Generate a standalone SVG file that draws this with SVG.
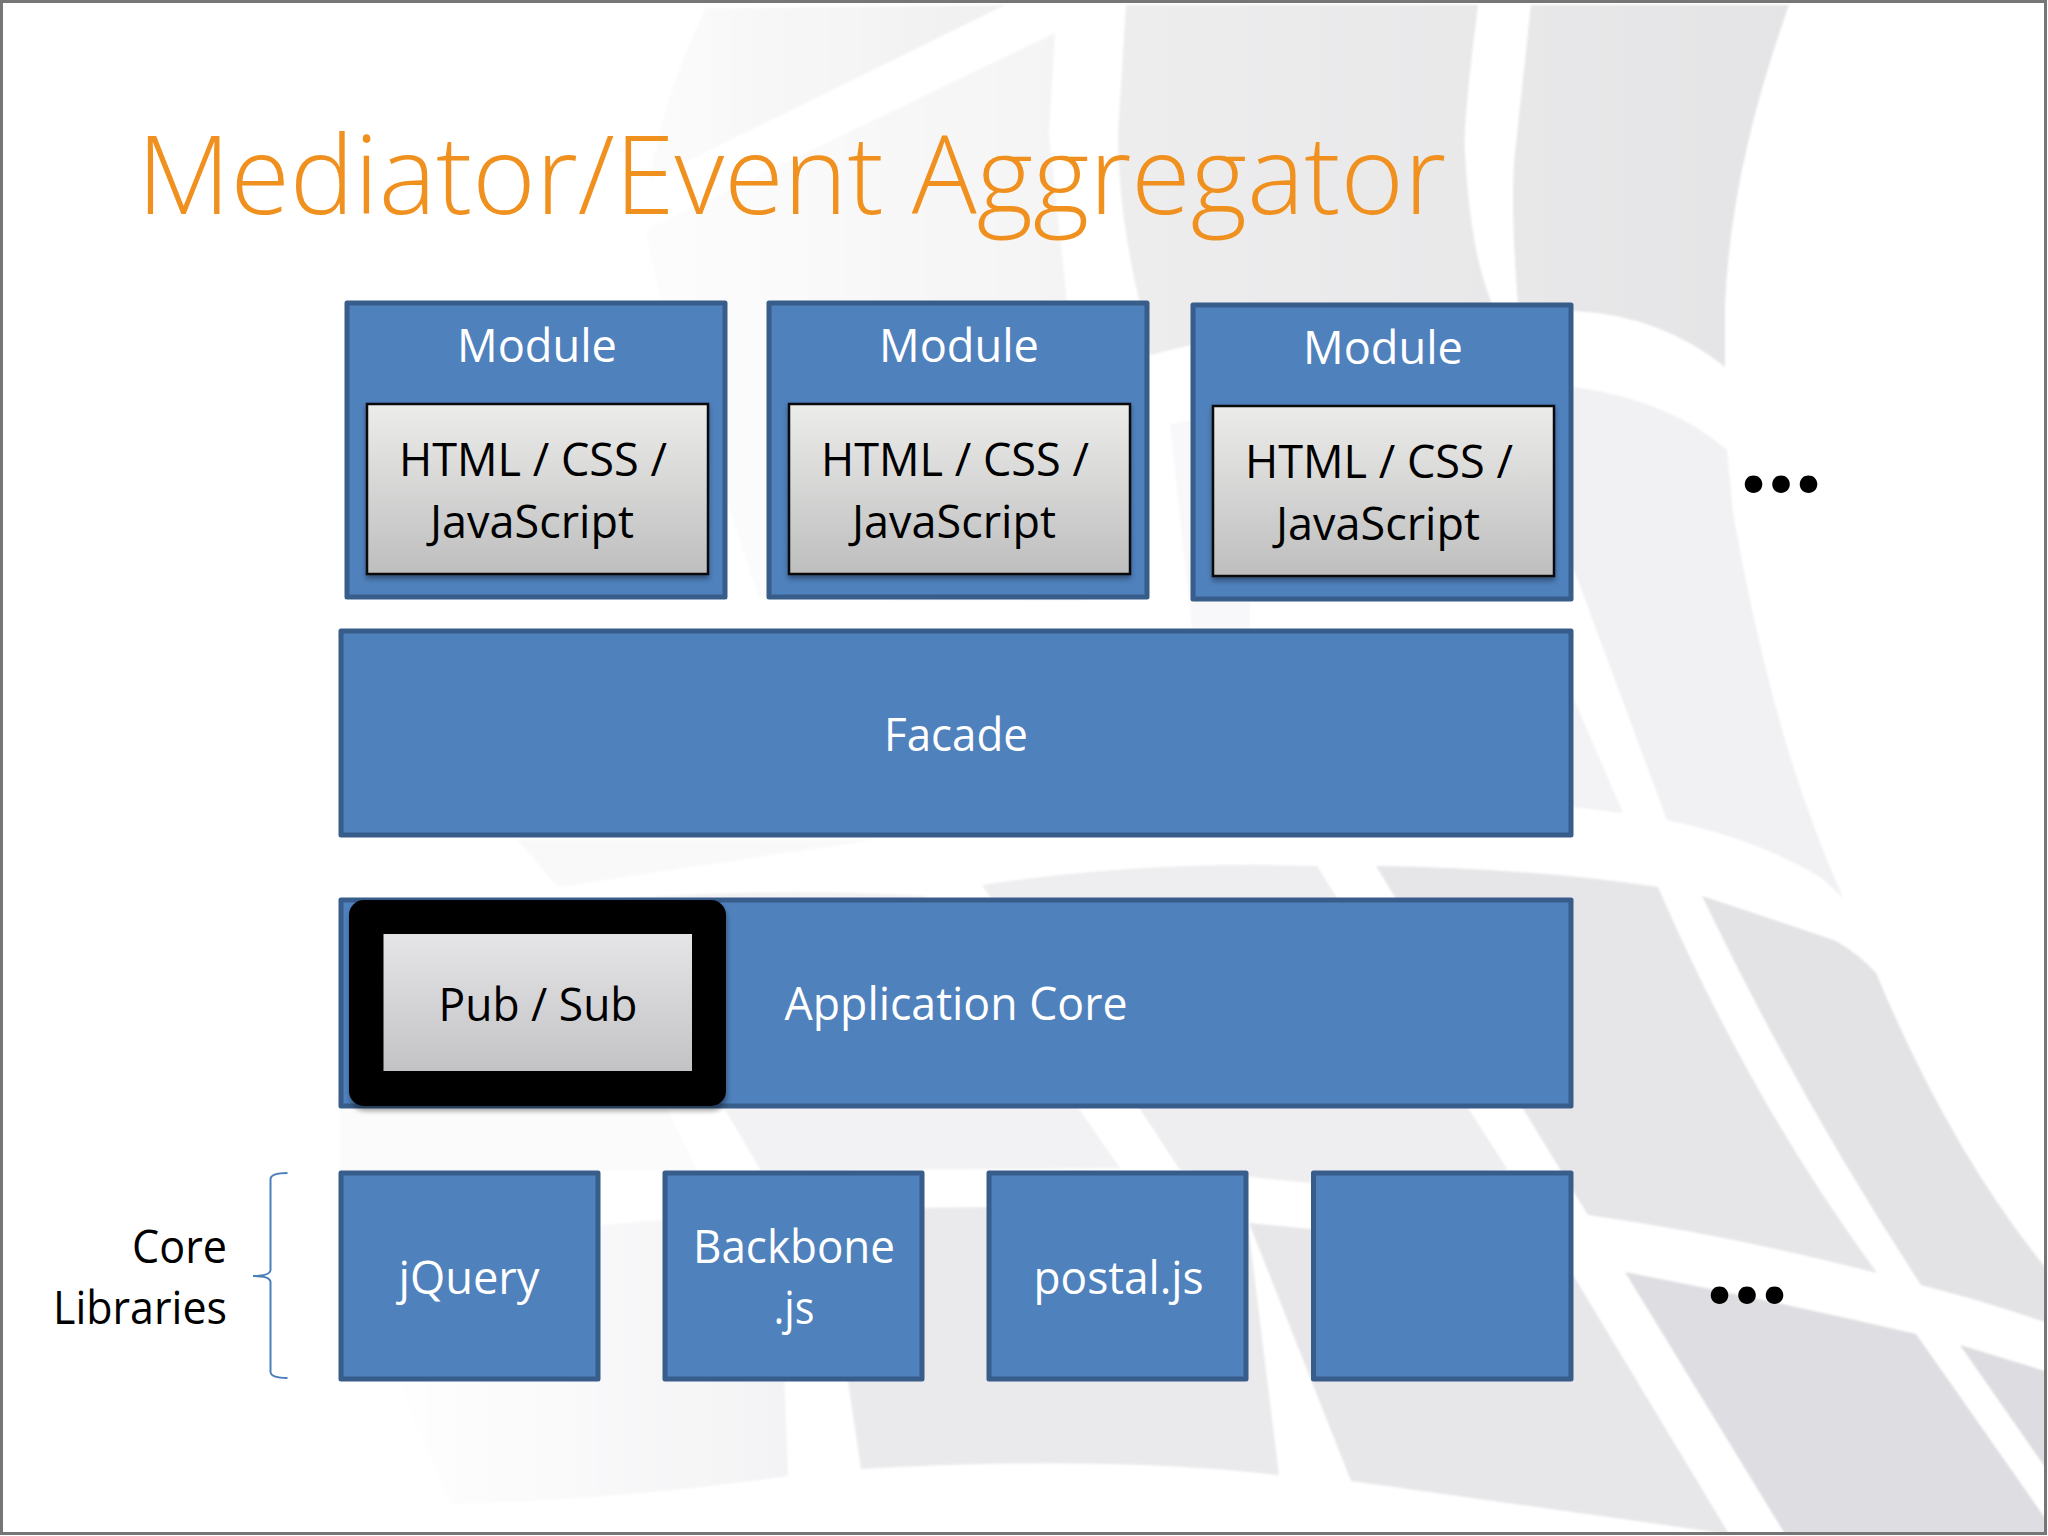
<svg xmlns="http://www.w3.org/2000/svg" width="2048" height="1536" viewBox="0 0 2048 1536">
<defs>
<linearGradient id="inner" x1="0" y1="0" x2="0" y2="1"><stop offset="0" stop-color="#ECEDEB"/><stop offset="1" stop-color="#BEBEBE"/></linearGradient>
<linearGradient id="inner2" x1="0" y1="0" x2="0" y2="1"><stop offset="0" stop-color="#E5E4E7"/><stop offset="1" stop-color="#C3C2C5"/></linearGradient>
<linearGradient id="fadeG" gradientUnits="userSpaceOnUse" x1="380" y1="0" x2="790" y2="0"><stop offset="0" stop-color="#FFFFFF"/><stop offset="1" stop-color="#F3F3F5"/></linearGradient>
<linearGradient id="fadeP" gradientUnits="userSpaceOnUse" x1="1124" y1="0" x2="1800" y2="0"><stop offset="0" stop-color="#EDEDEE"/><stop offset="1" stop-color="#E4E4E6"/></linearGradient>
<linearGradient id="fadeQ2" gradientUnits="userSpaceOnUse" x1="660" y1="0" x2="960" y2="0"><stop offset="0" stop-color="#FBFBFB"/><stop offset="1" stop-color="#F1F1F2"/></linearGradient>
<linearGradient id="fadeQ" gradientUnits="userSpaceOnUse" x1="640" y1="0" x2="1060" y2="0"><stop offset="0" stop-color="#FDFDFD"/><stop offset="1" stop-color="#F4F4F5"/></linearGradient>
<filter id="sh" x="-5%" y="-5%" width="110%" height="115%"><feGaussianBlur stdDeviation="2.5"/></filter>
<filter id="soft"><feGaussianBlur stdDeviation="0.8"/></filter>
</defs>
<style>
.box{fill:#4F81BD;stroke:#385D8A;stroke-width:5;stroke-linejoin:round}
.in{fill:url(#inner);stroke:#0A0A0A;stroke-width:2.5}
.shadow{fill:#000;opacity:.35;filter:url(#sh)}
text{font-family:"Open Sans","Noto Sans","Liberation Sans",sans-serif;font-size:46px}
.w{fill:#fff;text-anchor:middle}
.k{fill:#000;text-anchor:middle}
.r{fill:#000;text-anchor:end}
.dots{font-family:"Lato","Open Sans",sans-serif;font-weight:700;font-size:116px;fill:#000;text-anchor:middle}
.title{font-size:108px;font-weight:300;fill:#F0901E}
</style>
<rect width="2048" height="1536" fill="#fff"/>
<g id="background" filter="url(#soft)">
<path fill="url(#fadeQ2)" d="M706 8L1005 5L710 150L650 180Q665 90 706 8Z"/>
<path fill="url(#fadeQ)" d="M1055 33L1049 133L1067 301L1085 600L760 600L660 300L645 230Z"/>
<path fill="url(#fadeP)" d="M1126 5L1478 5Q1462 130 1465 153Q1470 250 1491 301L1495 320L1191 345L1150 355L1139 300Q1118 210 1118 133Z"/>
<path fill="url(#fadeP)" d="M1531 5L1789 5Q1730 170 1725 306L1725 367Q1660 315 1575 311L1518 306Q1510 200 1515 153Z"/>
<path fill="#F1F0F3" d="M1573 387Q1670 400 1727 450L1733 513Q1750 610 1773 697Q1800 800 1843 898Q1830 885 1820 877Q1760 840 1667 820L1573 567Z"/>
<path fill="#F3F3F5" d="M1573 697L1623 813L1573 807Z"/>
<path fill="#F8F8FA" d="M1170 424L1250 410L1250 628L1192 628Z"/>
<path fill="#F9F9FA" d="M517 840L874 840L558 887Z"/>
<path fill="#FBFBFC" d="M340 1108L667 1108L698 1171L340 1171Z"/>
<path fill="#F2F2F4" d="M560 905Q740 885 925 896L1079 1109L1120 1168L761 1171L724 1108L600 1000Z"/>
<path fill="#EEEEF0" d="M982 885Q1150 860 1317 866L1468 1108L1508 1170L1311 1183L1180 1170L1140 1109Z"/>
<path fill="#E6E6E9" d="M1376 866Q1530 868 1658 887Q1750 1100 1877 1273Q1730 1235 1588 1215Q1560 1170 1376 866Z"/>
<path fill="#E3E3E6" d="M1702 896Q1790 925 1836 941Q1860 955 1876 973Q1950 1150 2045 1267L2045 1322Q1980 1300 1921 1285Q1800 1100 1702 896Z"/>
<path fill="#DEDEE2" d="M1625 1272Q1770 1300 1916 1334L2045 1518L2045 1534L1785 1534Z"/>
<path fill="#DDDDE1" d="M1960 1345L2045 1371L2045 1467Z"/>
<path fill="#E7E7EA" d="M1249 1223L1311 1229L1573 1275L1729 1534L1351 1481Z"/>
<path fill="#EAEAED" d="M848 1382L861 1469Q1100 1455 1279 1475L1248 1225Q1100 1200 845 1210Z"/>
<path fill="url(#fadeG)" d="M600 1225L778 1210L788 1476Q620 1500 450 1504L396 1382L396 1240Z"/>
</g>
<text class="title" x="137" y="214" textLength="1309" lengthAdjust="spacingAndGlyphs">Mediator/Event Aggregator</text>
<g id="connectors">
<path d="M287.500 1173Q271 1173 270.500 1179L270.500 1270Q270 1276 253 1276Q270 1276 270.500 1282L270.500 1372Q271 1378 287.500 1378" fill="none" stroke="#4A7EBB" stroke-width="2"/>
</g>
<g id="module1">
<rect class="box" x="347" y="303" width="378" height="294"/>
<rect class="shadow" x="366" y="406" width="343" height="173"/><rect class="in" x="367" y="404" width="341" height="170"/>
<text class="w" x="537" y="361.500" textLength="160" lengthAdjust="spacingAndGlyphs">Module</text>
<text class="k" x="533" y="476" textLength="268" lengthAdjust="spacingAndGlyphs">HTML / CSS /</text>
<text class="k" x="532" y="537.500" textLength="204" lengthAdjust="spacingAndGlyphs">JavaScript</text>
</g>
<g id="module2" transform="translate(422 0)">
<rect class="box" x="347" y="303" width="378" height="294"/>
<rect class="shadow" x="366" y="406" width="343" height="173"/><rect class="in" x="367" y="404" width="341" height="170"/>
<text class="w" x="537" y="361.500" textLength="160" lengthAdjust="spacingAndGlyphs">Module</text>
<text class="k" x="533" y="476" textLength="268" lengthAdjust="spacingAndGlyphs">HTML / CSS /</text>
<text class="k" x="532" y="537.500" textLength="204" lengthAdjust="spacingAndGlyphs">JavaScript</text>
</g>
<g id="module3" transform="translate(846 2)">
<rect class="box" x="347" y="303" width="378" height="294"/>
<rect class="shadow" x="366" y="406" width="343" height="173"/><rect class="in" x="367" y="404" width="341" height="170"/>
<text class="w" x="537" y="361.500" textLength="160" lengthAdjust="spacingAndGlyphs">Module</text>
<text class="k" x="533" y="476" textLength="268" lengthAdjust="spacingAndGlyphs">HTML / CSS /</text>
<text class="k" x="532" y="537.500" textLength="204" lengthAdjust="spacingAndGlyphs">JavaScript</text>
</g>
<g id="dots-top"><text class="dots" x="1781" y="491.500">...</text></g>
<g id="facade">
<rect class="box" x="341" y="631" width="1230" height="204"/>
<text class="w" x="956" y="751" textLength="144" lengthAdjust="spacingAndGlyphs">Facade</text>
</g>
<g id="application-core">
<rect class="box" x="341" y="900" width="1230" height="206"/>
<text class="w" x="956" y="1020" textLength="343" lengthAdjust="spacingAndGlyphs">Application Core</text>
</g>
<g id="pub-sub">
<rect class="shadow" x="350" y="904" width="377" height="207" rx="15"/>
<rect x="349" y="900" width="377" height="206" rx="15" fill="#000"/>
<rect x="383.500" y="934" width="308.500" height="137" fill="url(#inner2)"/>
<text class="k" x="538" y="1020.500" textLength="199" lengthAdjust="spacingAndGlyphs">Pub / Sub</text>
</g>
<g id="jquery">
<rect class="box" x="341" y="1173" width="257" height="206"/>
<text class="w" x="469" y="1294" textLength="141" lengthAdjust="spacingAndGlyphs">jQuery</text>
</g>
<g id="backbone">
<rect class="box" x="665" y="1173" width="257" height="206"/>
<text class="w" x="794" y="1263" textLength="202" lengthAdjust="spacingAndGlyphs">Backbone</text>
<text class="w" x="794" y="1324" textLength="41" lengthAdjust="spacingAndGlyphs">.js</text>
</g>
<g id="postal">
<rect class="box" x="989" y="1173" width="257" height="206"/>
<text class="w" x="1118.500" y="1294" textLength="170" lengthAdjust="spacingAndGlyphs">postal.js</text>
</g>
<g id="empty-library">
<rect class="box" x="1313.500" y="1173" width="257.500" height="206"/>
</g>
<g id="core-libraries">
<text class="r" x="227" y="1263" textLength="95" lengthAdjust="spacingAndGlyphs">Core</text>
<text class="r" x="227" y="1324" textLength="174" lengthAdjust="spacingAndGlyphs">Libraries</text>
</g>
<g id="dots-bottom"><text class="dots" x="1747" y="1302.500">...</text></g>
<rect id="frame" x="1.500" y="1.500" width="2044" height="1532" fill="none" stroke="#767676" stroke-width="3"/>
</svg>
